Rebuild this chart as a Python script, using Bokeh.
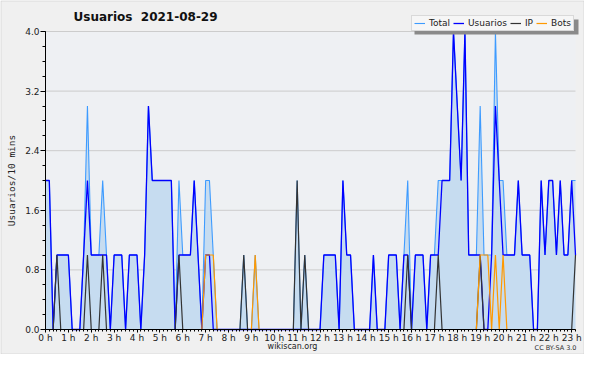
from bokeh.plotting import figure
from bokeh.models import Range1d, FixedTicker, Legend, LegendItem, Label, BoxAnnotation, PrintfTickFormatter
from bokeh.embed import file_html
from bokeh.resources import INLINE

title_text = "Usuarios \u00a02021-08-29"
hour_labels = ["0 h", "1 h", "2 h", "3 h", "4 h", "5 h", "6 h", "7 h", "8 h", "9 h", "10 h", "11 h",
               "12 h", "13 h", "14 h", "15 h", "16 h", "17 h", "18 h", "19 h", "20 h", "21 h", "22 h", "23 h"]
y_ticks = [0.0, 0.8, 1.6, 2.4, 3.2, 4.0]
y_max = 4.0

# one value per 10 minutes
total = [2, 2, 0, 1, 1, 1, 1, 0, 0, 0,
         1, 3, 1, 1, 1, 2, 1, 0, 1, 1,
         1, 0, 1, 1, 1, 0, 1, 3, 2, 2,
         2, 2, 2, 2, 0, 2, 1, 1, 1, 2,
         1, 0, 2, 2, 1, 0, 0, 0, 0, 0,
         0, 0, 1, 0, 0, 1, 0, 0, 0, 0,
         0, 0, 0, 0, 0, 0, 2, 0, 1, 0,
         0, 0, 0, 1, 1, 1, 1, 0, 2, 1,
         1, 0, 0, 0, 0, 0, 1, 0, 0, 0,
         1, 1, 1, 0, 1, 2, 0, 1, 1, 1,
         0, 1, 1, 2, 2, 2, 2, 4, 3, 2,
         4, 1, 1, 1, 3, 1, 1, 1, 4, 2,
         2, 1, 1, 1, 2, 1, 1, 1, 0, 0,
         2, 1, 2, 2, 1, 2, 1, 1, 2, 2]
usuarios = [2, 2, 0, 1, 1, 1, 1, 0, 0, 0,
            1, 2, 1, 1, 1, 1, 1, 0, 1, 1,
            1, 0, 1, 1, 1, 0, 1, 3, 2, 2,
            2, 2, 2, 2, 0, 1, 1, 1, 1, 2,
            1, 0, 1, 1, 0, 0, 0, 0, 0, 0,
            0, 0, 0, 0, 0, 0, 0, 0, 0, 0,
            0, 0, 0, 0, 0, 0, 0, 0, 0, 0,
            0, 0, 0, 1, 1, 1, 1, 0, 2, 1,
            1, 0, 0, 0, 0, 0, 1, 0, 0, 0,
            1, 1, 1, 0, 1, 1, 0, 1, 1, 1,
            0, 1, 1, 1, 2, 2, 2, 4, 3, 2,
            4, 1, 1, 1, 1, 0, 0, 1, 3, 2,
            1, 1, 1, 1, 2, 1, 1, 1, 0, 0,
            2, 1, 2, 2, 1, 2, 1, 1, 2, 1]
ip = [0, 0, 0, 1, 0, 0, 0, 0, 0, 0,
      0, 1, 0, 0, 0, 1, 0, 0, 0, 0,
      0, 0, 0, 0, 0, 0, 0, 0, 0, 0,
      0, 0, 0, 0, 0, 1, 0, 0, 0, 0,
      0, 0, 0, 0, 0, 0, 0, 0, 0, 0,
      0, 0, 1, 0, 0, 0, 0, 0, 0, 0,
      0, 0, 0, 0, 0, 0, 2, 0, 1, 0,
      0, 0, 0, 0, 0, 0, 0, 0, 0, 0,
      0, 0, 0, 0, 0, 0, 0, 0, 0, 0,
      0, 0, 0, 0, 0, 1, 0, 0, 0, 0,
      0, 0, 0, 1, 0, 0, 0, 0, 0, 0,
      0, 0, 0, 0, 1, 0, 0, 0, 0, 0,
      0, 0, 0, 0, 0, 0, 0, 0, 0, 0,
      0, 0, 0, 0, 0, 0, 0, 0, 0, 1]
bots = [0, 0, 0, 0, 0, 0, 0, 0, 0, 0,
        0, 0, 0, 0, 0, 0, 0, 0, 0, 0,
        0, 0, 0, 0, 0, 0, 0, 0, 0, 0,
        0, 0, 0, 0, 0, 0, 0, 0, 0, 0,
        0, 0, 1, 1, 1, 0, 0, 0, 0, 0,
        0, 0, 0, 0, 0, 1, 0, 0, 0, 0,
        0, 0, 0, 0, 0, 0, 0, 0, 0, 0,
        0, 0, 0, 0, 0, 0, 0, 0, 0, 0,
        0, 0, 0, 0, 0, 0, 0, 0, 0, 0,
        0, 0, 0, 0, 0, 0, 0, 0, 0, 0,
        0, 0, 0, 0, 0, 0, 0, 0, 0, 0,
        0, 0, 0, 0, 1, 1, 1, 0, 1, 0,
        1, 0, 0, 0, 0, 0, 0, 0, 0, 0,
        0, 0, 0, 0, 0, 0, 0, 0, 0, 0]

x = list(range(len(total)))
x_last = len(total) - 1

# ---- layout (pixels inside the 584x354 canvas) ----
W, H = 584, 354
PL, PR = 45, 575      # plot area left / right
PT, PB = 31, 329      # plot area top / bottom (y=4 and y=0)
sx = (PR - PL) / x_last
sy = (PB - PT) / y_max
x_range = Range1d(-PL / sx, x_last + (W - PR) / sx)
y_range = Range1d(-(H - PB) / sy, y_max + PT / sy)

p = figure(width=W, height=H, x_range=x_range, y_range=y_range,
           output_backend="svg", toolbar_location=None,
           min_border_left=0, min_border_right=0, min_border_top=0, min_border_bottom=0)
p.background_fill_color = "#f0f0f0"
p.border_fill_color = "#f0f0f0"
p.outline_line_color = None
p.xgrid.visible = False
p.ygrid.visible = False

# plot area background and horizontal grid lines
p.quad(left=0, right=x_last, bottom=0, top=y_max, fill_color="#eef0f3", line_color=None)
p.segment(x0=[0] * len(y_ticks), x1=[x_last] * len(y_ticks), y0=y_ticks, y1=y_ticks,
          line_color="#cccccc", line_width=1)

# Y axis
p.yaxis.fixed_location = 0
p.yaxis.bounds = (0, y_max)
p.yaxis.ticker = FixedTicker(ticks=y_ticks, minor_ticks=[i * 0.2 for i in range(21)])
p.yaxis.formatter = PrintfTickFormatter(format="%.1f")
p.yaxis.major_tick_out = 5
p.yaxis.major_tick_in = 0
p.yaxis.minor_tick_out = 3
p.yaxis.minor_tick_in = 0
p.yaxis.major_label_standoff = 1
p.yaxis.major_label_text_font = "DejaVu Sans"
p.yaxis.major_label_text_font_size = "9px"
p.yaxis.major_label_text_color = "#222222"
p.yaxis.axis_label = "Usuarios/10 mins"
p.yaxis.axis_label_text_font = "DejaVu Sans Mono"
p.yaxis.axis_label_text_font_size = "9.5px"
p.yaxis.axis_label_text_font_style = "normal"
p.yaxis.axis_label_text_color = "#222222"
p.yaxis.axis_label_standoff = 5
p.yaxis.axis_line_color = "black"

# X axis
hour_ticks = [6 * h for h in range(len(hour_labels)) if 6 * h <= x_last]
p.xaxis.fixed_location = 0
p.xaxis.bounds = (0, x_last)
p.xaxis.ticker = FixedTicker(ticks=hour_ticks, minor_ticks=x)
p.xaxis.major_label_overrides = {6 * h: hour_labels[h] for h in range(len(hour_ticks))}
p.xaxis.major_tick_out = 3
p.xaxis.major_tick_in = 0
p.xaxis.minor_tick_out = 2
p.xaxis.minor_tick_in = 0
p.xaxis.major_label_standoff = 0
p.xaxis.major_label_text_font = "DejaVu Sans"
p.xaxis.major_label_text_font_size = "9px"
p.xaxis.major_label_text_color = "#222222"
p.xaxis.axis_line_color = "black"

# data
p.varea(x=x, y1=0, y2=total, fill_color="#c6dcf0")
r_total = p.line(x, total, line_color="#3d9bff", line_width=1.1)
r_u = p.line(x, usuarios, line_color="#0000ff", line_width=1.3)
r_ip = p.line(x, ip, line_color="#333333", line_width=1.2)
r_b = p.line(x, bots, line_color="#ff9900", line_width=1.2)

# legend + shadow
LX, LY, LW = 411, 323, 164
p.add_layout(BoxAnnotation(left=LX + 3, right=LX + LW + 3, bottom=LY - 3, top=LY + 12,
                           left_units="screen", right_units="screen",
                           bottom_units="screen", top_units="screen",
                           fill_color="#8a8a8a", fill_alpha=1, line_alpha=0))
legend = Legend(items=[LegendItem(label="Total", renderers=[r_total]),
                       LegendItem(label="Usuarios", renderers=[r_u]),
                       LegendItem(label="IP", renderers=[r_ip]),
                       LegendItem(label="Bots", renderers=[r_b])],
                orientation="horizontal", location=(LX, LY), margin=0,
                padding=2, spacing=3, glyph_width=11, glyph_height=10,
                label_height=10, label_width=0, label_standoff=4,
                label_text_font="DejaVu Sans", label_text_font_size="9px",
                label_text_color="#222222",
                border_line_color="#bbbbbb", background_fill_color="#f6f6f6",
                background_fill_alpha=1)
p.add_layout(legend, "center")

# outer border
p.add_layout(BoxAnnotation(left=0.5, right=W - 0.5, bottom=0.5, top=H - 0.5,
                           left_units="screen", right_units="screen",
                           bottom_units="screen", top_units="screen",
                           fill_alpha=0, line_color="#aaaaaa", line_width=1))

p.add_layout(Label(x=73, y=H - 16, x_units="screen", y_units="screen", text=title_text,
                   text_font="DejaVu Sans", text_font_size="12px", text_font_style="bold",
                   text_baseline="middle", text_color="#111111"))
p.add_layout(Label(x=292, y=4, x_units="screen", y_units="screen", text="wikiscan.org",
                   text_font="DejaVu Sans", text_font_size="8px", text_align="center",
                   text_baseline="bottom", text_color="#222222"))
p.add_layout(Label(x=576, y=3, x_units="screen", y_units="screen", text="CC BY-SA 3.0",
                   text_font="DejaVu Sans", text_font_size="6.5px", text_align="right",
                   text_baseline="bottom", text_color="#333333"))

open("out.html", "w").write(file_html(p, INLINE))
